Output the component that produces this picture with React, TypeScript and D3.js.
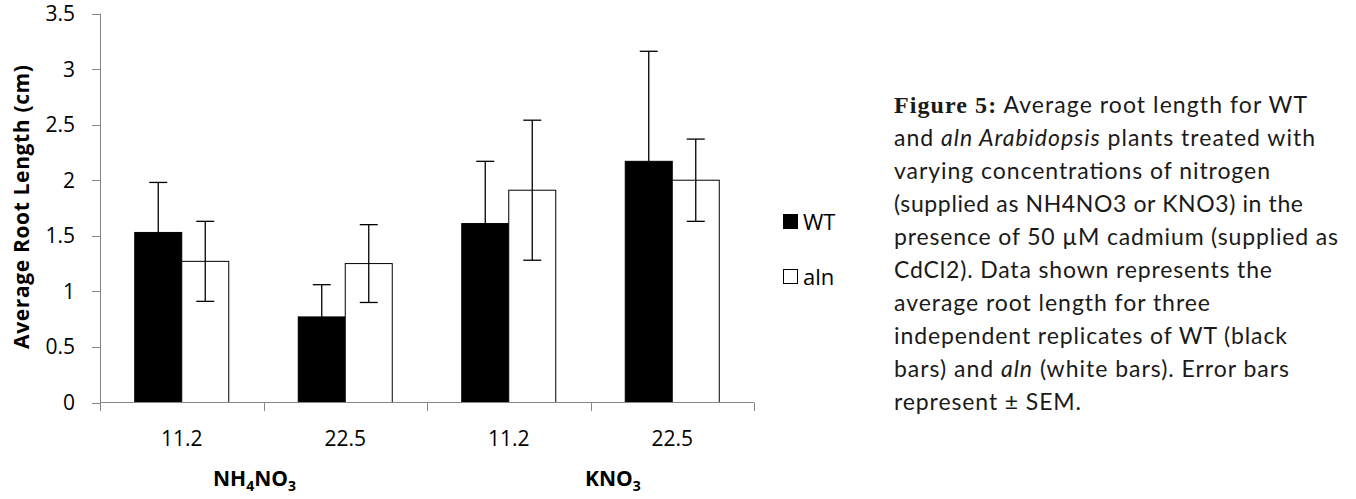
import { useEffect, useRef } from 'react';
import * as d3 from 'd3';

const categories = ['11.2', '22.5', '11.2', '22.5'];
const wtValues = [1.53, 0.77, 1.61, 2.17];
const wtErrors = [0.45, 0.29, 0.56, 0.99];
const alnValues = [1.27, 1.25, 1.91, 2.0];
const alnErrors = [0.36, 0.35, 0.63, 0.37];
const yTicks = [0, 0.5, 1, 1.5, 2, 2.5, 3, 3.5];
const groupLabels: [string, boolean][][] = [
  [['NH', false], ['4', true], ['NO', false], ['3', true]],
  [['KNO', false], ['3', true]],
];

// caption lines: [kind, text] pieces
const captionLines: [string, string][][] = [
  [['b', 'Figure 5:'], ['n', ' Average root length for WT']],
  [['n', 'and '], ['i', 'aln Arabidopsis'], ['n', ' plants treated with']],
  [['n', 'varying concentrations of nitrogen']],
  [['n', '(supplied as NH4NO3 or KNO3) in the']],
  [['n', 'presence of 50 µM cadmium (supplied as']],
  [['n', 'CdCl2). Data shown represents the']],
  [['n', 'average root length for three']],
  [['n', 'independent replicates of WT (black']],
  [['n', 'bars) and '], ['i', 'aln'], ['n', ' (white bars). Error bars']],
  [['n', 'represent ± SEM.']],
];
const captionWidths = [413, 421, 376, 409, 444, 378, 316, 393, 395, 187];

function App() {
  const svgRef = useRef<SVGSVGElement>(null);

  useEffect(() => {
    if (!svgRef.current) return;
    const svg = d3.select(svgRef.current);
    svg.selectAll('*').remove();

    const axisColor = '#868686';
    const font = '"Open Sans", Calibri, sans-serif';

    const y = d3.scaleLinear().domain([0, 3.5]).range([402.5, 13.5]);
    const x = d3.scaleBand<number>()
      .domain(categories.map((_, i) => i))
      .range([100, 754])
      .paddingInner(0.425)
      .paddingOuter(0.2125);
    const xSub = d3.scaleBand<string>().domain(['wt', 'aln']).range([0, x.bandwidth()]);

    const g = svg.append('g');

    // y axis
    g.append('line')
      .attr('x1', 100.5).attr('x2', 100.5)
      .attr('y1', y(3.5)).attr('y2', y(0))
      .attr('stroke', axisColor);
    yTicks.forEach(t => {
      g.append('line')
        .attr('x1', 92).attr('x2', 100.5)
        .attr('y1', Math.round(y(t)) + 0.5).attr('y2', Math.round(y(t)) + 0.5)
        .attr('stroke', axisColor);
      g.append('text')
        .attr('x', 75).attr('y', y(t) + 7.5)
        .attr('text-anchor', 'end')
        .style('font-family', font)
        .style('font-size', '21px')
        .attr('fill', '#000')
        .text(String(t));
    });

    // bars
    const series = [
      { key: 'wt', values: wtValues, errors: wtErrors, fill: '#000' },
      { key: 'aln', values: alnValues, errors: alnErrors, fill: '#fff' },
    ];
    series.forEach(s => {
      g.selectAll(`.bar-${s.key}`)
        .data(s.values)
        .enter()
        .append('rect')
        .attr('x', (_, i) => (x(i) as number) + (xSub(s.key) as number))
        .attr('y', d => y(d))
        .attr('width', xSub.bandwidth())
        .attr('height', d => y(0) - y(d))
        .attr('fill', s.fill)
        .attr('stroke', '#000')
        .attr('stroke-width', 1);
    });

    // x axis
    g.append('line')
      .attr('x1', 100).attr('x2', 754)
      .attr('y1', 402.5).attr('y2', 402.5)
      .attr('stroke', axisColor);
    const outer = (x.step() - x.bandwidth()) / 2;
    for (let i = 0; i <= categories.length; i++) {
      const bx = i < categories.length ? (x(i) as number) - outer : (x(i - 1) as number) + x.bandwidth() + outer;
      g.append('line')
        .attr('x1', Math.round(bx) + 0.5).attr('x2', Math.round(bx) + 0.5)
        .attr('y1', 402.5).attr('y2', 411)
        .attr('stroke', axisColor);
    }
    categories.forEach((c, i) => {
      g.append('text')
        .attr('x', (x(i) as number) + x.bandwidth() / 2)
        .attr('y', 446)
        .attr('text-anchor', 'middle')
        .style('font-family', font)
        .style('font-size', '21px')
        .text(c);
    });

    // error bars
    series.forEach(s => {
      s.values.forEach((v, i) => {
        const cx = (x(i) as number) + (xSub(s.key) as number) + xSub.bandwidth() / 2;
        const top = y(v + s.errors[i]);
        const bot = y(v - s.errors[i]);
        g.append('line')
          .attr('x1', cx).attr('x2', cx).attr('y1', top).attr('y2', bot)
          .attr('stroke', '#000').attr('stroke-width', 1.3);
        [top, bot].forEach(yy => {
          g.append('line')
            .attr('x1', cx - 9).attr('x2', cx + 9).attr('y1', yy).attr('y2', yy)
            .attr('stroke', '#000').attr('stroke-width', 1.3);
        });
      });
    });

    // group labels
    const groupX = [213, 585];
    groupLabels.forEach((parts, gi) => {
      const t = g.append('text')
        .attr('x', groupX[gi]).attr('y', 486)
        .style('font-family', font)
        .style('font-weight', 'bold');
      let shifted = false;
      parts.forEach(([txt, sub]) => {
        const dy = sub && !shifted ? 5 : !sub && shifted ? -5 : 0;
        shifted = sub;
        t.append('tspan')
          .attr('dy', dy)
          .style('font-size', sub ? '14px' : '21px')
          .text(txt);
      });
    });

    // y axis title
    g.append('text')
      .attr('transform', 'translate(29,207) rotate(-90)')
      .attr('text-anchor', 'middle')
      .style('font-family', font)
      .style('font-size', '21px')
      .style('font-weight', 'bold')
      .attr('textLength', 284)
      .text('Average Root Length (cm)');

    // legend
    const legend = [
      { label: 'WT', fill: '#000', y: 214 },
      { label: 'aln', fill: '#fff', y: 269 },
    ];
    legend.forEach(l => {
      g.append('rect')
        .attr('x', 783.5).attr('y', l.y + 0.5)
        .attr('width', 14).attr('height', 14)
        .attr('fill', l.fill).attr('stroke', '#000');
      g.append('text')
        .attr('x', 803).attr('y', l.y + 16)
        .style('font-family', font)
        .style('font-size', '22px')
        .text(l.label);
    });

    // caption
    captionLines.forEach((line, li) => {
      const t = g.append('text')
        .attr('x', 894)
        .attr('y', 113 + li * 33)
        .attr('textLength', captionWidths[li])
        .attr('lengthAdjust', 'spacing')
        .style('font-family', 'Lato, "Open Sans", sans-serif')
        .style('font-size', '23px')
        .attr('fill', '#1a1a1a');
      line.forEach(([kind, txt]) => {
        const sp = t.append('tspan').text(txt);
        if (kind === 'i') sp.style('font-style', 'italic');
        if (kind === 'b') sp.style('font-family', '"Liberation Serif", serif').style('font-weight', 'bold').style('font-size', '24px');
      });
    });
  }, []);

  return (
    <svg
      ref={svgRef}
      width={1356}
      height={499}
      style={{ position: 'absolute', left: 0, top: 0, background: '#fff' }}
    />
  );
}

export default App;
